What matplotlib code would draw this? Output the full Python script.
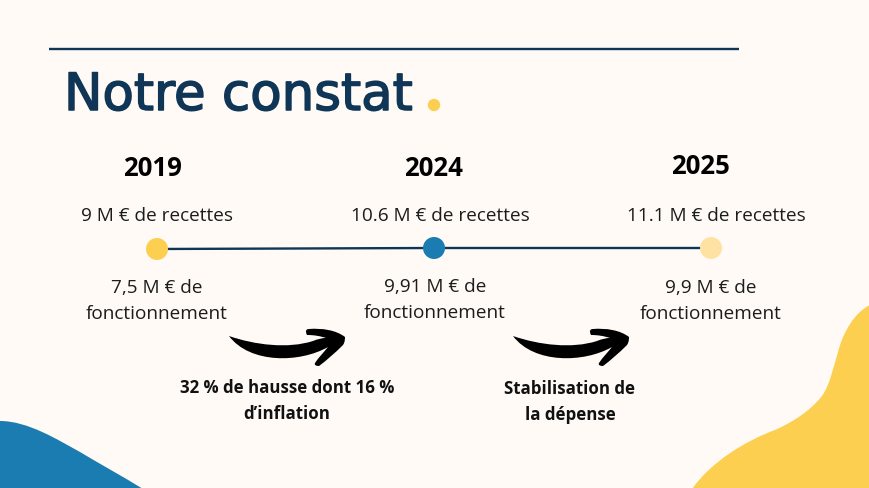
import matplotlib
matplotlib.use('Agg')
import matplotlib.pyplot as plt
import matplotlib.patheffects as pe
from matplotlib.patches import Circle, PathPatch
from matplotlib.path import Path

title = "Notre constat"
years = ["2019", "2024", "2025"]
recettes = ["9 M € de recettes", "10.6 M € de recettes", "11.1 M € de recettes"]
fonctionnement = ["7,5 M € de\nfonctionnement", "9,91 M € de\nfonctionnement", "9,9 M € de\nfonctionnement"]
notes = ["32 % de hausse dont 16 %\nd’inflation", "Stabilisation de\nla dépense"]

navy = '#0f3557'
yellow = '#fdcf50'
blue = '#1a7cb0'
pale = '#fde2a3'
bg = '#fffaf5'

plt.rcParams['font.family'] = ['Open Sans', 'DejaVu Sans']

fig = plt.figure(figsize=(8.7, 4.89), dpi=100, facecolor=bg)
ax = fig.add_axes([0, 0, 1, 1])
ax.set_xlim(0, 870)
ax.set_ylim(489, 0)
ax.axis('off')


def curve(points, color):
    # first point then groups of 3 bezier points
    codes = [Path.MOVETO] + [Path.CURVE4] * (len(points) - 1)
    ax.add_patch(PathPatch(Path(points, codes), fc=color, ec='none'))


# corner blobs
curve([(0, 422), (28, 422), (58, 441), (80, 453),
       (100, 465), (122, 477), (143, 490), (143, 490), (0, 490), (0, 490),
       (0, 490), (0, 422), (0, 422)], blue)
curve([(692, 490), (711, 463), (745, 442), (775, 431),
       (793, 423), (810, 412), (822, 397), (830, 386), (834, 366), (838, 353),
       (843, 333), (855, 313), (870, 306), (870, 306), (870, 490), (870, 490),
       (870, 490), (692, 490), (692, 490)], yellow)

# rule and title
ax.plot([49, 739], [49.5, 49.5], color=navy, lw=1.7, solid_capstyle='butt')
ax.text(64, 111, title, fontsize=37, color=navy, family='DejaVu Sans',
        va='baseline', ha='left',
        path_effects=[pe.withStroke(linewidth=1.1, foreground=navy)])
ax.add_patch(Circle((434, 106), 6.2, fc=yellow, ec='none'))

# timeline
year_x = [152, 433, 700]
year_y = [169, 169, 167]
rec_x = [157, 440, 716]
fonc_x = [157, 435, 711]
fonc_y = [301, 300, 301]
dot_x = [157, 434, 711]
dot_y = [250, 249, 249]
dot_col = [yellow, blue, pale]

ax.plot(dot_x, dot_y, color=navy, lw=1.7, zorder=2)
for i in range(3):
    ax.add_patch(Circle((dot_x[i], dot_y[i]), 11, fc=dot_col[i], ec='none', zorder=3))
    ax.text(year_x[i], year_y[i], years[i], fontsize=18.5, fontweight='bold', color='black',
            ha='center', va='center')
    ax.text(rec_x[i], 216, recettes[i], fontsize=13.7, color='#1c1c1c', ha='center', va='center')
    ax.text(fonc_x[i], fonc_y[i], fonctionnement[i], fontsize=13.7, color='#1c1c1c',
            ha='center', va='center', linespacing=1.6)

# swoosh arrows
arrow_dx = [0, 284]
for dx in arrow_dx:
    pts = [(229, 337),
           (255, 346), (288, 350), (313, 342),
           (318, 340), (322, 339), (326, 339),
           (320, 337), (314, 336), (307, 336),
           (305, 332), (306, 330), (309, 330),
           (322, 329), (336, 331), (345, 338),
           (345, 340), (345, 343), (343, 346),
           (335, 354), (327, 361), (319, 367),
           (316, 367), (314, 366), (315, 364),
           (319, 358), (324, 353), (328, 348),
           (300, 364), (250, 365), (229, 337)]
    curve([(x + dx, y) for x, y in pts], 'black')

note_x = [287, 570]
note_y = [401, 402]
for i in range(2):
    ax.text(note_x[i], note_y[i], notes[i], fontsize=12.2, fontweight='bold', color='#111111',
            ha='center', va='center', linespacing=1.55)

plt.savefig('out.png', dpi=100, facecolor=bg)
